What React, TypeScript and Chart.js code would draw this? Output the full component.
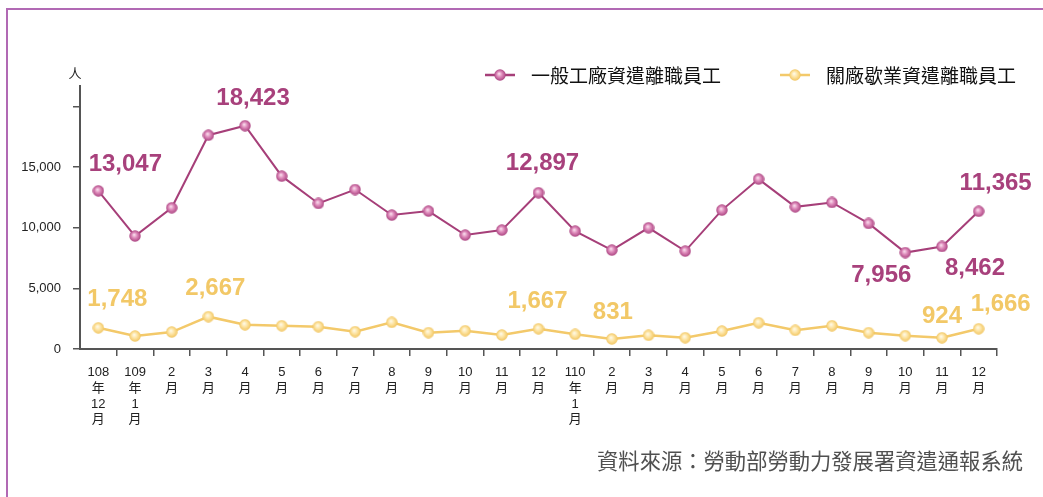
import { useEffect, useRef } from 'react';
import { Chart, registerables } from 'chart.js';

Chart.register(...registerables);

// ---- data ----
const categories: string[][] = [
  ['108', '年', '12', '月'],
  ['109', '年', '1', '月'],
  ['2', '月'], ['3', '月'], ['4', '月'], ['5', '月'], ['6', '月'], ['7', '月'],
  ['8', '月'], ['9', '月'], ['10', '月'], ['11', '月'], ['12', '月'],
  ['110', '年', '1', '月'],
  ['2', '月'], ['3', '月'], ['4', '月'], ['5', '月'], ['6', '月'], ['7', '月'],
  ['8', '月'], ['9', '月'], ['10', '月'], ['11', '月'], ['12', '月'],
];

const generalLayoffs = [
  13047, 9320, 11650, 17640, 18423, 14260, 12010, 13160, 11050, 11380, 9400, 9810, 12897,
  9730, 8160, 10000, 8080, 11460, 14020, 11730, 12090, 10360, 7956, 8462, 11365,
];

const closureLayoffs = [
  1748, 1070, 1400, 2667, 2000, 1920, 1840, 1430, 2200, 1350, 1510, 1150, 1667,
  1210, 831, 1130, 930, 1480, 2170, 1540, 1920, 1350, 1100, 924, 1666,
];

const seriesNames = ['一般工廠資遣離職員工', '關廠歇業資遣離職員工'];
const yTickValues = [0, 5000, 10000, 15000, 20000];
const yTickLabels = ['0', '5,000', '10,000', '15,000', ''];
const unitLabel = '人';
const sourceText = '資料來源：勞動部勞動力發展署資遣通報系統';

const generalLabelIdx = [0, 4, 12, 22, 23, 24];
const closureLabelIdx = [0, 3, 12, 14, 23, 24];

// ---- styling ----
const PURPLE = '#a63f79';
const PURPLE_TEXT = '#a8417c';
const YELLOW = '#f3c96a';
const YELLOW_TEXT = '#f2c867';
const LATIN = "'Liberation Sans', Arial, 'Noto Sans CJK TC', sans-serif";
const CJK = "'Noto Sans CJK TC', 'Noto Sans CJK SC', sans-serif";

// label offsets (dx, dy) relative to the point, for label centres
const generalLabelOffsets: [number, number][] = [
  [27, -28], [8, -29], [4, -31], [-24, 21], [33, 20], [17, -30],
];
const closureLabelOffsets: [number, number][] = [
  [19, -30], [7, -30], [-1, -29], [1, -29], [0, -23], [22, -26],
];

function makeMarker(stops: [number, string][]): HTMLCanvasElement {
  const c = document.createElement('canvas');
  c.width = 12;
  c.height = 12;
  const g = c.getContext('2d')!;
  const grad = g.createRadialGradient(5, 4.6, 0, 6, 6, 6);
  stops.forEach(([o, col]) => grad.addColorStop(o, col));
  g.fillStyle = grad;
  g.beginPath();
  g.arc(6, 6, 5.7, 0, Math.PI * 2);
  g.fill();
  return c;
}

export default function App() {
  const ref = useRef<HTMLCanvasElement | null>(null);

  useEffect(() => {
    if (!ref.current) return;
    const purpleMarker = makeMarker([[0, '#fde8f3'], [0.45, '#de8bbb'], [1, '#a83f7d']]);
    const yellowMarker = makeMarker([[0, '#fffcee'], [0.5, '#fde3a0'], [1, '#f0c35c']]);

    const overlay = {
      id: 'overlay',
      afterDatasetsDraw(chart: any) {
        const ctx = chart.ctx as CanvasRenderingContext2D;
        ctx.save();
        ctx.font = `bold 24px ${LATIN}`;
        ctx.textAlign = 'center';
        ctx.textBaseline = 'alphabetic';
        const draw = (dsIndex: number, idxs: number[], offs: [number, number][], values: number[], color: string) => {
          const meta = chart.getDatasetMeta(dsIndex);
          ctx.fillStyle = color;
          idxs.forEach((i, k) => {
            const p = meta.data[i];
            const [dx, dy] = offs[k];
            ctx.fillText(values[i].toLocaleString('en-US'), p.x + dx, p.y + dy + 8.6);
          });
        };
        draw(0, generalLabelIdx, generalLabelOffsets, generalLayoffs, PURPLE_TEXT);
        draw(1, closureLabelIdx, closureLabelOffsets, closureLayoffs, YELLOW_TEXT);
        ctx.restore();
      },
      afterDraw(chart: any) {
        const ctx = chart.ctx as CanvasRenderingContext2D;
        ctx.save();
        // unit
        ctx.fillStyle = '#222';
        ctx.font = `13px ${CJK}`;
        ctx.textAlign = 'center';
        ctx.textBaseline = 'middle';
        ctx.fillText(unitLabel, 75, 73);
        // legend
        const items = [
          { x: 500, color: PURPLE, marker: purpleMarker, text: seriesNames[0] },
          { x: 795, color: YELLOW, marker: yellowMarker, text: seriesNames[1] },
        ];
        const ly = 75;
        items.forEach((it) => {
          ctx.strokeStyle = it.color;
          ctx.lineWidth = 2.5;
          ctx.beginPath();
          ctx.moveTo(it.x - 15, ly);
          ctx.lineTo(it.x + 15, ly);
          ctx.stroke();
          ctx.drawImage(it.marker, it.x - 6, ly - 6, 12, 12);
          ctx.fillStyle = '#111';
          ctx.font = `19px ${CJK}`;
          ctx.textAlign = 'left';
          ctx.textBaseline = 'middle';
          ctx.fillText(it.text, it.x + 31, ly + 1);
        });
        // source
        ctx.fillStyle = '#505050';
        ctx.font = `21.3px ${CJK}`;
        ctx.textAlign = 'right';
        ctx.textBaseline = 'middle';
        ctx.fillText(sourceText, 1023, 461);
        ctx.restore();
      },
    };

    const chart = new Chart(ref.current, {
      type: 'line',
      data: {
        labels: categories as any,
        datasets: [
          {
            label: seriesNames[0],
            data: generalLayoffs,
            borderColor: PURPLE,
            backgroundColor: PURPLE,
            borderWidth: 2,
            pointStyle: purpleMarker as any,
            pointRadius: 6,
            pointHoverRadius: 6,
            tension: 0,
          },
          {
            label: seriesNames[1],
            data: closureLayoffs,
            borderColor: YELLOW,
            backgroundColor: YELLOW,
            borderWidth: 2.5,
            pointStyle: yellowMarker as any,
            pointRadius: 6,
            pointHoverRadius: 6,
            tension: 0,
          },
        ],
      },
      options: {
        responsive: false,
        animation: false,
        events: [],
        layout: { padding: { top: 86, right: 46, left: 0, bottom: 0 } },
        plugins: { legend: { display: false }, tooltip: { enabled: false } },
        scales: {
          x: {
            offset: true,
            grid: {
              offset: true,
              drawOnChartArea: false,
              drawTicks: true,
              tickLength: 7,
              lineWidth: 1.5,
              color: (c: any) => (c.index === 0 || c.index >= categories.length ? 'rgba(0,0,0,0)' : '#555'),
            },
            border: { display: true, color: '#555', width: 2 },
            ticks: {
              autoSkip: false,
              maxRotation: 0,
              minRotation: 0,
              padding: 9,
              color: '#222',
              font: { family: LATIN, size: 13, lineHeight: 1.2 },
            },
            afterFit: (s: any) => {
              s.height = 148;
            },
          },
          y: {
            min: 0,
            max: 21700,
            afterBuildTicks: (s: any) => {
              s.ticks = yTickValues.map((v) => ({ value: v }));
            },
            grid: {
              drawOnChartArea: false,
              drawTicks: true,
              tickLength: 7,
              lineWidth: 1.5,
              color: '#555',
            },
            border: { display: true, color: '#555', width: 2 },
            ticks: {
              padding: 12,
              color: '#222',
              font: { family: LATIN, size: 13 },
              callback: (v: any) => yTickLabels[yTickValues.indexOf(Number(v))] ?? '',
            },
            afterFit: (s: any) => {
              s.width = 80;
            },
          },
        },
      },
      plugins: [overlay],
    });
    return () => chart.destroy();
  }, []);

  return (
    <div style={{ position: 'fixed', left: 0, top: 0, width: 1043, height: 497, overflow: 'hidden', background: '#fff' }}>
      <div
        style={{
          position: 'absolute',
          left: 6,
          top: 8,
          width: 1200,
          height: 700,
          border: '2.5px solid #b169b4',
          boxSizing: 'border-box',
        }}
      />
      <canvas ref={ref} width={1043} height={497} style={{ position: 'absolute', left: 0, top: 0, width: 1043, height: 497 }} />
    </div>
  );
}
